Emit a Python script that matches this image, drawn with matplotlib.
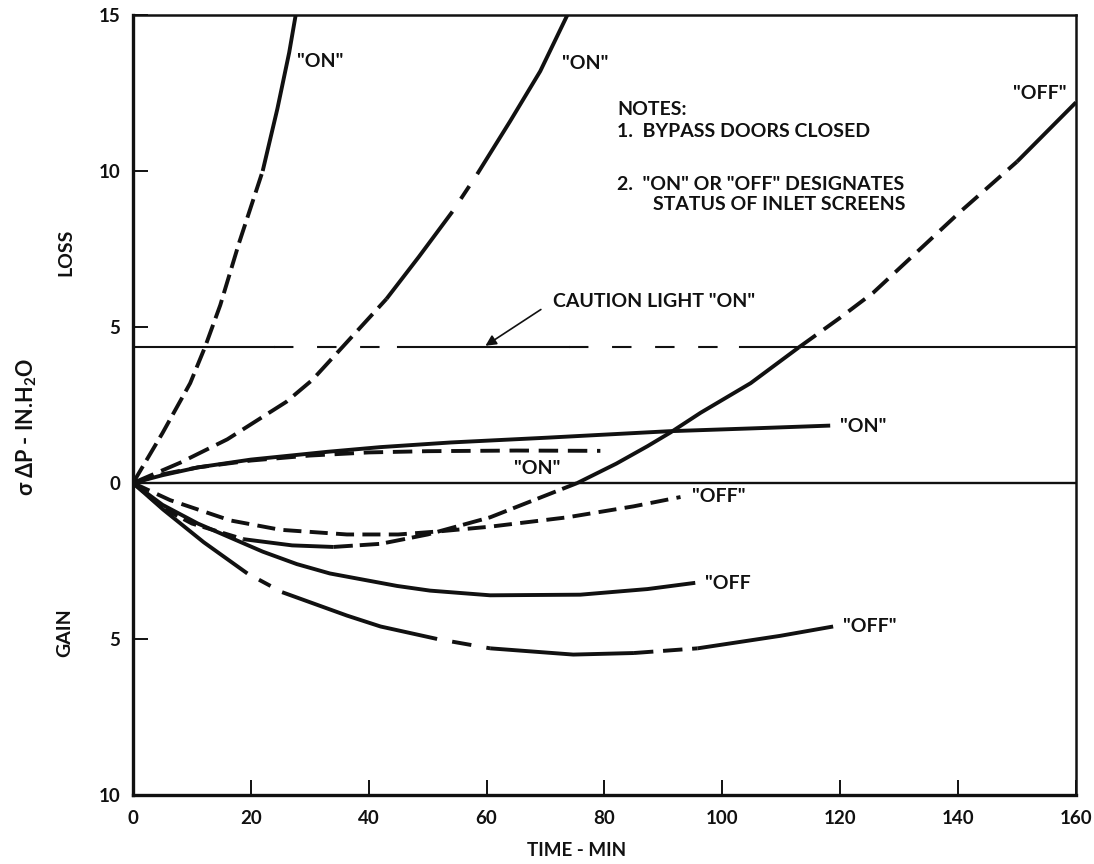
import matplotlib
matplotlib.use("Agg")
import matplotlib.pyplot as plt

plt.rcParams["font.family"] = ["Lato", "DejaVu Sans"]
plt.rcParams["font.weight"] = "bold"
plt.rcParams["mathtext.fontset"] = "custom"
plt.rcParams["mathtext.rm"] = "Lato:bold"
plt.rcParams["mathtext.it"] = "Lato:bold"
plt.rcParams["mathtext.bf"] = "Lato:bold"
plt.rcParams["lines.scale_dashes"] = False

INK = "#111111"

# curves: time (min) vs sigma dP (in. H2O), loss positive, gain negative
time_a = [0, 5, 9.7, 12.2, 14.8, 18, 22, 24.5, 26.5, 27.6]
dp_a = [0, 1.6, 3.2, 4.35, 5.7, 7.7, 10, 12.0, 13.8, 15]

time_b = [0, 8, 16, 26, 30.4, 35.5, 43, 48.5, 54.2, 58.4, 64, 69.1, 73.7]
dp_b = [0, 0.65, 1.4, 2.6, 3.3, 4.35, 5.9, 7.25, 8.7, 9.9, 11.6, 13.2, 15]

time_c = [0, 5, 10, 18.7, 27, 34, 42, 50, 60.6, 68, 75.4, 82, 87.3, 91.2, 96.3,
          104.8, 113, 120, 125.6, 140.4, 150, 160]
dp_c = [0, -0.8, -1.3, -1.8, -2.0, -2.05, -1.95, -1.65, -1.1, -0.55, 0, 0.62, 1.18, 1.62, 2.25,
        3.2, 4.35, 5.3, 6.1, 8.7, 10.3, 12.2]

time_off_dash = [0, 6.3, 16.5, 25, 36.3, 45, 52, 60.6, 73.7, 84.9, 92.9]
dp_off_dash = [0, -0.55, -1.2, -1.5, -1.65, -1.65, -1.55, -1.4, -1.1, -0.75, -0.45]

time_d = [0, 5, 11, 20, 33, 42, 54, 70, 91, 105, 118.3]
dp_d = [0, 0.25, 0.5, 0.75, 1.0, 1.15, 1.3, 1.45, 1.66, 1.75, 1.84]

time_e = [0, 5, 11, 20, 30, 40, 50, 65, 79.3]
dp_e = [0, 0.28, 0.5, 0.72, 0.88, 0.98, 1.02, 1.04, 1.03]

time_f = [0, 5, 11, 22, 27.8, 33.4, 44.8, 50.4, 60.6, 75.9, 87.3, 95.4]
dp_f = [0, -0.7, -1.3, -2.2, -2.6, -2.9, -3.3, -3.45, -3.6, -3.58, -3.4, -3.2]

time_g = [0, 5.1, 12, 19.4, 25.3, 36.3, 42, 51.6, 60.6, 74.7, 85, 95.8, 109.8, 118.8]
dp_g = [0, -0.85, -1.9, -2.9, -3.5, -4.25, -4.6, -5.0, -5.3, -5.5, -5.45, -5.3, -4.9, -4.6]

caution_level = 4.35

x_ticks = [0, 20, 40, 60, 80, 100, 120, 140, 160]
y_ticks = [-10, -5, 0, 5, 10, 15]
y_tick_labels = ["10", "5", "0", "5", "10", "15"]

notes = ["NOTES:", "1.  BYPASS DOORS CLOSED", '2.  "ON" OR "OFF" DESIGNATES']
notes_cont = "STATUS OF INLET SCREENS"

fig = plt.figure(figsize=(10.94, 8.64), dpi=100)
ax = fig.add_axes([0.1216, 0.0799, 0.8619, 0.9027])


def trace(x, y, pieces, lw=2.8):
    # pieces: (first index, last index, linestyle)
    for i0, i1, ls in pieces:
        ax.plot(x[i0:i1 + 1], y[i0:i1 + 1], color=INK, lw=lw, linestyle=ls,
                solid_capstyle="butt", dash_capstyle="butt", solid_joinstyle="round")


trace(time_a, dp_a, [(0, 6, (0, (14, 5))), (6, 9, "-")])
trace(time_b, dp_b, [(0, 6, (0, (16, 6))), (6, 8, "-"), (8, 9, (11, (11, 11))), (9, 12, "-")])
trace(time_c, dp_c, [(0, 3, (0, (10, 5))), (3, 5, "-"), (5, 10, (0, (14, 5))),
                     (10, 16, "-"), (16, 20, (0, (15, 7))), (20, 21, "-")])
trace(time_off_dash, dp_off_dash, [(0, 10, (0, (13, 6)))])
trace(time_d, dp_d, [(0, 10, "-")])
trace(time_e, dp_e, [(0, 8, (0, (14, 7)))])
trace(time_f, dp_f, [(0, 11, "-")])
trace(time_g, dp_g, [(0, 3, "-"), (3, 4, (9.5, (9.5, 9.5))), (4, 7, "-"),
                     (7, 8, (14, (14, 11))), (8, 10, "-"), (10, 11, (0, (14, 7))), (11, 13, "-")])

# zero line and caution level
ax.axhline(0, color=INK, lw=1.7)
for x0, x1, ls in [(0, 24, "-"), (24, 45, (0, (14, 17))), (45, 74, "-"),
                   (74, 103, (0, (14, 17))), (103, 160, "-")]:
    ax.plot([x0, x1], [caution_level, caution_level], color=INK, lw=1.5, linestyle=ls,
            dash_capstyle="butt")

ax.annotate("", xy=(59.4, caution_level), xytext=(69.6, 5.61),
            arrowprops=dict(arrowstyle="-|>", color=INK, lw=1.2, mutation_scale=16))

lab = dict(fontsize=14, va="center", ha="left", color=INK)
ax.text(71.3, 5.81, 'CAUTION LIGHT "ON"', **lab)

# curve labels
ax.text(27.8, 13.5, '"ON"', **lab)
ax.text(72.8, 13.45, '"ON"', **lab)
ax.text(149.4, 12.5, '"OFF"', **lab)
ax.text(120.0, 1.8, '"ON"', **lab)
ax.text(64.6, 0.45, '"ON"', **lab)
ax.text(94.9, -0.42, '"OFF"', **lab)
ax.text(97.1, -3.23, '"OFF', **lab)
ax.text(120.5, -4.61, '"OFF"', **lab)

# notes block
ax.text(82.2, 11.97, notes[0], **lab)
ax.text(82.2, 11.26, notes[1], **lab)
ax.text(82.2, 9.58, notes[2], **lab)
ax.text(88.2, 8.94, notes_cont, **lab)

ax.set_xlim(0, 160)
ax.set_ylim(-10, 15)
ax.set_xticks(x_ticks)
ax.set_xticklabels([str(t) for t in x_ticks])
ax.set_yticks(y_ticks)
ax.set_yticklabels(y_tick_labels)
ax.tick_params(direction="in", length=11, width=1.4, labelsize=13.5, colors=INK,
               top=False, right=False)
ax.tick_params(axis="x", pad=11)
ax.tick_params(axis="y", pad=9)
for side in ["left", "bottom"]:
    ax.spines[side].set_linewidth(2.4)
for side in ["top", "right"]:
    ax.spines[side].set_linewidth(1.8)
for s in ax.spines.values():
    s.set_color(INK)

fig.text(0.0603, 0.7083, "LOSS", rotation=90, fontsize=14, ha="center", va="center", color=INK)
fig.text(0.0594, 0.2674, "GAIN", rotation=90, fontsize=14, ha="center", va="center", color=INK)
fig.text(0.0247, 0.5058, r"σ ΔP - IN.H$_2$O", rotation=90, fontsize=15.5,
         ha="center", va="center", color=INK)
fig.text(0.5274, 0.0162, "TIME - MIN", fontsize=13.5, ha="center", va="center", color=INK)

fig.savefig("out.png", dpi=100, facecolor="white")
